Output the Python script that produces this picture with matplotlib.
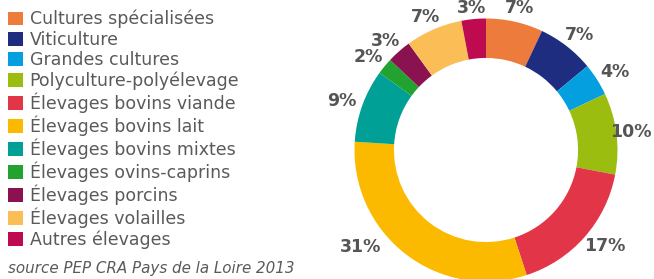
import numpy as np
import matplotlib
matplotlib.use('Agg')
import matplotlib.pyplot as plt

categories = [
    "Cultures spécialisées", "Viticulture", "Grandes cultures",
    "Polyculture-polyélevage", "Élevages bovins viande", "Élevages bovins lait",
    "Élevages bovins mixtes", "Élevages ovins-caprins", "Élevages porcins",
    "Élevages volailles", "Autres élevages",
]
shares = [7, 7, 4, 10, 17, 31, 9, 2, 3, 7, 3]
colors = [
    "#ED7B3C", "#1E2D80", "#039FDE", "#9BBD0F", "#E23648", "#FBB900",
    "#00A096", "#22A22F", "#8B1250", "#FBBD55", "#BE0A4E",
]
source = "source PEP CRA Pays de la Loire 2013"

W, H = 654, 279
fig = plt.figure(figsize=(W / 100, H / 100), dpi=100)

# donut: centre (486, 150) px, outer radius ~131 px
R = 131.5
lim = 1.3
size = 2 * lim * R
cx, cy = 486, H - 150
ax = fig.add_axes([(cx - size / 2) / W, (cy - size / 2) / H, size / W, size / H])

wedges, _ = ax.pie(shares, colors=colors, startangle=90, counterclock=False,
                   radius=1.0, wedgeprops=dict(width=0.3, linewidth=0))
ax.set_xlim(-lim, lim)
ax.set_ylim(-lim, lim)
ax.set_aspect('equal')
ax.axis('off')
for w in wedges:
    w.set_clip_on(False)

# percentage labels just outside the ring (box edge next to the wedge),
# kept inside the visible area like the original
renderer = fig.canvas.get_renderer()
gap = 0.05
y_low, y_high = -0.74, 1.08
x_high = (W - 2 - cx) / R
for w, v in zip(wedges, shares):
    ang = np.deg2rad((w.theta1 + w.theta2) / 2)
    ux, uy = np.cos(ang), np.sin(ang)
    t = ax.text(0, 0, f"{v}%", ha='center', va='center', fontsize=12.5,
                fontweight='bold', color='#555555', clip_on=False)
    bb = t.get_window_extent(renderer)
    hw, hh = bb.width / 2 / R, bb.height / 2 / R * 0.8
    x = (1 + gap) * ux + hw * ux
    y = (1 + gap) * uy + hh * uy
    if y > y_high:
        y = y_high
    elif y < y_low:
        # slide along the circle so the label stays above the bottom edge
        d = np.hypot(x, y) + 0.06
        y = y_low
        x = np.sign(x) * np.sqrt(max(d ** 2 - y ** 2, 0))
    x = min(x, x_high - hw)
    t.set_position((x, y))

leg = fig.legend(wedges, categories, loc='upper left',
                 bbox_to_anchor=(8 / W, 1 - 10 / H), frameon=False,
                 fontsize=12.5, handlelength=0.85, handleheight=0.85,
                 handletextpad=0.4, labelspacing=0.14, borderaxespad=0,
                 borderpad=0)
for t in leg.get_texts():
    t.set_color('#5a5a5a')

fig.text(8 / W, 1 - 268 / H, source, ha='left', va='center', fontsize=10.9,
         style='italic', color='#5a5a5a')

fig.savefig('out.png', dpi=100, facecolor='white')
